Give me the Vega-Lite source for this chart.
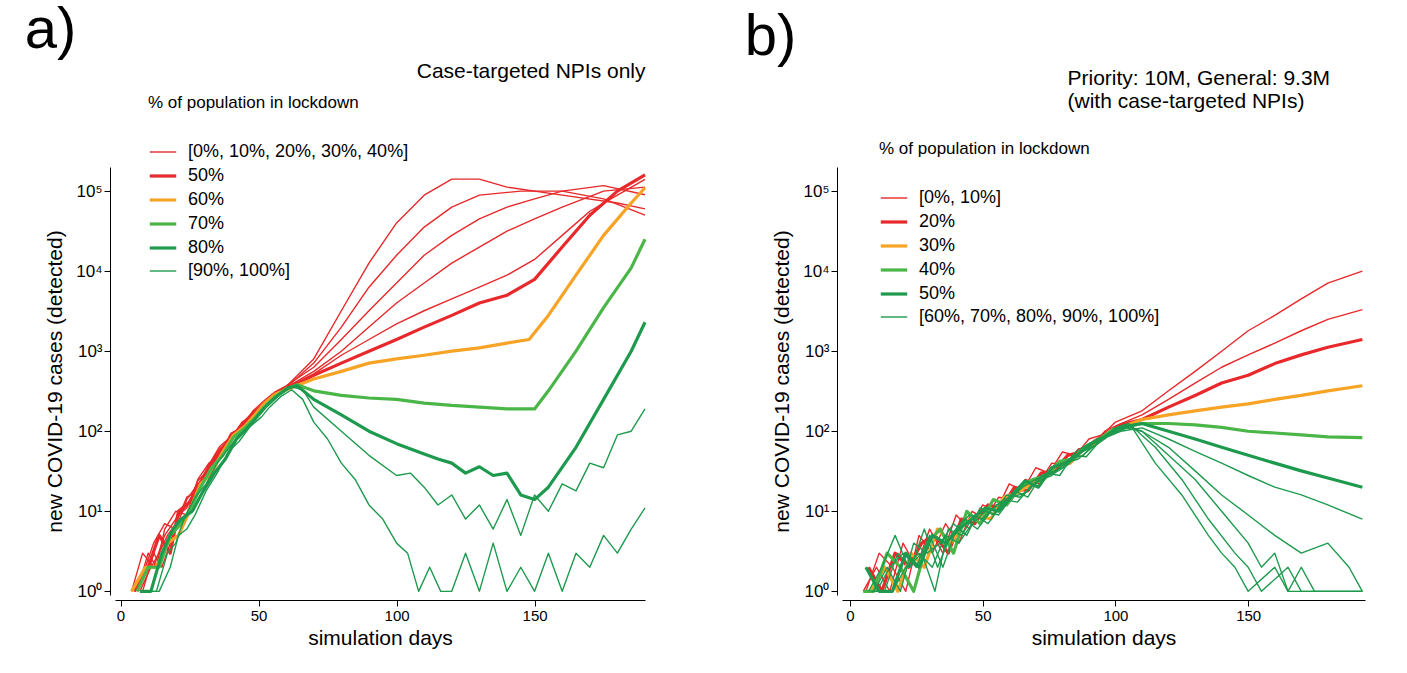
{
"$schema":"https://vega.github.io/schema/vega-lite/v6.json",
"background":"white",
"padding":{"left":24,"top":2,"right":5,"bottom":5},
"config":{"view":{"stroke":null},"font":"Liberation Sans",
 "axis":{"grid":false,"domainColor":"black","tickColor":"black","labelColor":"black","titleColor":"black","labelFontSize":15,"titleFontSize":21,"titleFontWeight":"normal","tickSize":6,"labelFont":"Liberation Sans","titleFont":"Liberation Sans"},
 "legend":{"labelFontSize":18,"titleFontSize":17,"titleFontWeight":"normal","labelColor":"black","titleColor":"black","symbolType":"stroke","symbolSize":700,"rowPadding":-1,"labelOffset":10,"labelLimit":0,"titleLimit":0},
 "title":{"fontSize":58,"fontWeight":"normal","anchor":"start","color":"black","font":"Liberation Sans"}},
"datasets":{
"sa":[{"s":"r1","g":"[0%, 10%, 20%, 30%, 40%]"},{"s":"r2","g":"[0%, 10%, 20%, 30%, 40%]"},{"s":"r3","g":"[0%, 10%, 20%, 30%, 40%]"},{"s":"r4","g":"[0%, 10%, 20%, 30%, 40%]"},{"s":"r5","g":"[0%, 10%, 20%, 30%, 40%]"},{"s":"r50","g":"50%"},{"s":"o60","g":"60%"},{"s":"g70","g":"70%"},{"s":"d80","g":"80%"},{"s":"t1","g":"[90%, 100%]"},{"s":"t2","g":"[90%, 100%]"}],
"sb":[{"s":"b10a","g":"[0%, 10%]"},{"s":"b10b","g":"[0%, 10%]"},{"s":"b20","g":"20%"},{"s":"b30","g":"30%"},{"s":"b40","g":"40%"},{"s":"b50","g":"50%"},{"s":"h1","g":" [60%, 70%, 80%, 90%, 100%]"},{"s":"h2","g":" [60%, 70%, 80%, 90%, 100%]"},{"s":"h3","g":" [60%, 70%, 80%, 90%, 100%]"},{"s":"h4","g":" [60%, 70%, 80%, 90%, 100%]"},{"s":"h5","g":" [60%, 70%, 80%, 90%, 100%]"}],
"a":[
{"s":"r1","x":4,"y":1},{"s":"r1","x":8,"y":3},{"s":"r1","x":12,"y":2},{"s":"r1","x":16,"y":5},{"s":"r1","x":20,"y":8},{"s":"r1","x":24,"y":12},{"s":"r1","x":28,"y":20},{"s":"r1","x":32,"y":35},{"s":"r1","x":36,"y":55},{"s":"r1","x":40,"y":90},{"s":"r1","x":44,"y":120},{"s":"r1","x":48,"y":170},{"s":"r1","x":52,"y":230},{"s":"r1","x":56,"y":300},{"s":"r1","x":60,"y":360},{"s":"r1","x":70,"y":800},{"s":"r1","x":80,"y":3200},{"s":"r1","x":90,"y":12600},{"s":"r1","x":100,"y":40000},{"s":"r1","x":110,"y":89000},{"s":"r1","x":120,"y":141000},{"s":"r1","x":130,"y":141000},{"s":"r1","x":140,"y":112000},{"s":"r1","x":160,"y":89000},{"s":"r1","x":180,"y":71000},{"s":"r1","x":190,"y":60000},
{"s":"r2","x":5,"y":1},{"s":"r2","x":9,"y":2},{"s":"r2","x":12,"y":4},{"s":"r2","x":16,"y":7},{"s":"r2","x":20,"y":6},{"s":"r2","x":24,"y":14},{"s":"r2","x":28,"y":22},{"s":"r2","x":32,"y":30},{"s":"r2","x":36,"y":60},{"s":"r2","x":40,"y":80},{"s":"r2","x":44,"y":130},{"s":"r2","x":48,"y":160},{"s":"r2","x":52,"y":220},{"s":"r2","x":56,"y":290},{"s":"r2","x":60,"y":350},{"s":"r2","x":70,"y":710},{"s":"r2","x":80,"y":2000},{"s":"r2","x":90,"y":6300},{"s":"r2","x":100,"y":15800},{"s":"r2","x":110,"y":35500},{"s":"r2","x":120,"y":63000},{"s":"r2","x":130,"y":89000},{"s":"r2","x":145,"y":100000},{"s":"r2","x":160,"y":100000},{"s":"r2","x":175,"y":80000},{"s":"r2","x":190,"y":50000},
{"s":"r3","x":6,"y":1},{"s":"r3","x":10,"y":3},{"s":"r3","x":13,"y":2},{"s":"r3","x":16,"y":6},{"s":"r3","x":20,"y":10},{"s":"r3","x":24,"y":9},{"s":"r3","x":28,"y":25},{"s":"r3","x":32,"y":40},{"s":"r3","x":36,"y":50},{"s":"r3","x":40,"y":95},{"s":"r3","x":44,"y":110},{"s":"r3","x":48,"y":180},{"s":"r3","x":52,"y":240},{"s":"r3","x":56,"y":310},{"s":"r3","x":60,"y":370},{"s":"r3","x":70,"y":630},{"s":"r3","x":80,"y":1400},{"s":"r3","x":90,"y":3200},{"s":"r3","x":100,"y":7100},{"s":"r3","x":110,"y":15800},{"s":"r3","x":120,"y":28000},{"s":"r3","x":130,"y":45000},{"s":"r3","x":140,"y":63000},{"s":"r3","x":150,"y":80000},{"s":"r3","x":160,"y":100000},{"s":"r3","x":175,"y":117000},{"s":"r3","x":190,"y":90000},
{"s":"r4","x":7,"y":1},{"s":"r4","x":11,"y":2},{"s":"r4","x":14,"y":3},{"s":"r4","x":17,"y":5},{"s":"r4","x":20,"y":7},{"s":"r4","x":24,"y":15},{"s":"r4","x":28,"y":18},{"s":"r4","x":32,"y":38},{"s":"r4","x":36,"y":65},{"s":"r4","x":40,"y":85},{"s":"r4","x":44,"y":125},{"s":"r4","x":48,"y":175},{"s":"r4","x":52,"y":220},{"s":"r4","x":56,"y":300},{"s":"r4","x":60,"y":350},{"s":"r4","x":70,"y":560},{"s":"r4","x":80,"y":1000},{"s":"r4","x":90,"y":2000},{"s":"r4","x":100,"y":4000},{"s":"r4","x":110,"y":7100},{"s":"r4","x":120,"y":12600},{"s":"r4","x":130,"y":20000},{"s":"r4","x":140,"y":31600},{"s":"r4","x":150,"y":45000},{"s":"r4","x":160,"y":63000},{"s":"r4","x":175,"y":100000},{"s":"r4","x":190,"y":112000},
{"s":"r5","x":8,"y":1},{"s":"r5","x":12,"y":3},{"s":"r5","x":15,"y":2},{"s":"r5","x":18,"y":4},{"s":"r5","x":21,"y":9},{"s":"r5","x":24,"y":11},{"s":"r5","x":28,"y":24},{"s":"r5","x":32,"y":33},{"s":"r5","x":36,"y":52},{"s":"r5","x":40,"y":88},{"s":"r5","x":44,"y":115},{"s":"r5","x":48,"y":165},{"s":"r5","x":52,"y":210},{"s":"r5","x":56,"y":290},{"s":"r5","x":60,"y":340},{"s":"r5","x":70,"y":520},{"s":"r5","x":80,"y":890},{"s":"r5","x":90,"y":1400},{"s":"r5","x":100,"y":2200},{"s":"r5","x":110,"y":3200},{"s":"r5","x":120,"y":4500},{"s":"r5","x":130,"y":6300},{"s":"r5","x":140,"y":8900},{"s":"r5","x":150,"y":14000},{"s":"r5","x":160,"y":28000},{"s":"r5","x":170,"y":56000},{"s":"r5","x":180,"y":89000},{"s":"r5","x":190,"y":140000},
{"s":"r50","x":5,"y":1},{"s":"r50","x":10,"y":2},{"s":"r50","x":14,"y":5},{"s":"r50","x":18,"y":3},{"s":"r50","x":21,"y":10},{"s":"r50","x":25,"y":13},{"s":"r50","x":28,"y":20},{"s":"r50","x":32,"y":36},{"s":"r50","x":36,"y":58},{"s":"r50","x":40,"y":80},{"s":"r50","x":44,"y":120},{"s":"r50","x":48,"y":160},{"s":"r50","x":52,"y":215},{"s":"r50","x":56,"y":280},{"s":"r50","x":60,"y":340},{"s":"r50","x":70,"y":500},{"s":"r50","x":80,"y":710},{"s":"r50","x":90,"y":1000},{"s":"r50","x":100,"y":1400},{"s":"r50","x":110,"y":2000},{"s":"r50","x":120,"y":2800},{"s":"r50","x":130,"y":4000},{"s":"r50","x":140,"y":5000},{"s":"r50","x":150,"y":7900},{"s":"r50","x":160,"y":20000},{"s":"r50","x":170,"y":50000},{"s":"r50","x":180,"y":100000},{"s":"r50","x":190,"y":160000},
{"s":"o60","x":4,"y":1},{"s":"o60","x":9,"y":2},{"s":"o60","x":13,"y":2},{"s":"o60","x":17,"y":4},{"s":"o60","x":21,"y":5},{"s":"o60","x":25,"y":10},{"s":"o60","x":29,"y":22},{"s":"o60","x":33,"y":30},{"s":"o60","x":37,"y":55},{"s":"o60","x":41,"y":90},{"s":"o60","x":45,"y":115},{"s":"o60","x":49,"y":165},{"s":"o60","x":52,"y":220},{"s":"o60","x":56,"y":290},{"s":"o60","x":60,"y":330},{"s":"o60","x":70,"y":450},{"s":"o60","x":80,"y":560},{"s":"o60","x":90,"y":710},{"s":"o60","x":100,"y":800},{"s":"o60","x":110,"y":890},{"s":"o60","x":120,"y":1000},{"s":"o60","x":130,"y":1100},{"s":"o60","x":140,"y":1260},{"s":"o60","x":148,"y":1400},{"s":"o60","x":155,"y":2800},{"s":"o60","x":165,"y":8900},{"s":"o60","x":175,"y":28000},{"s":"o60","x":185,"y":71000},{"s":"o60","x":190,"y":110000},
{"s":"g70","x":6,"y":1},{"s":"g70","x":10,"y":2},{"s":"g70","x":14,"y":2},{"s":"g70","x":18,"y":5},{"s":"g70","x":22,"y":7},{"s":"g70","x":26,"y":12},{"s":"g70","x":29,"y":20},{"s":"g70","x":33,"y":35},{"s":"g70","x":37,"y":50},{"s":"g70","x":41,"y":85},{"s":"g70","x":45,"y":110},{"s":"g70","x":49,"y":150},{"s":"g70","x":52,"y":200},{"s":"g70","x":56,"y":270},{"s":"g70","x":60,"y":340},{"s":"g70","x":64,"y":380},{"s":"g70","x":70,"y":320},{"s":"g70","x":80,"y":280},{"s":"g70","x":90,"y":260},{"s":"g70","x":100,"y":250},{"s":"g70","x":110,"y":225},{"s":"g70","x":120,"y":210},{"s":"g70","x":130,"y":200},{"s":"g70","x":140,"y":190},{"s":"g70","x":150,"y":190},{"s":"g70","x":155,"y":320},{"s":"g70","x":165,"y":1000},{"s":"g70","x":175,"y":3500},{"s":"g70","x":185,"y":11000},{"s":"g70","x":190,"y":25000},
{"s":"d80","x":7,"y":1},{"s":"d80","x":11,"y":1},{"s":"d80","x":15,"y":3},{"s":"d80","x":19,"y":6},{"s":"d80","x":22,"y":8},{"s":"d80","x":26,"y":10},{"s":"d80","x":30,"y":18},{"s":"d80","x":34,"y":30},{"s":"d80","x":38,"y":45},{"s":"d80","x":42,"y":80},{"s":"d80","x":46,"y":110},{"s":"d80","x":50,"y":160},{"s":"d80","x":53,"y":210},{"s":"d80","x":57,"y":280},{"s":"d80","x":61,"y":350},{"s":"d80","x":64,"y":370},{"s":"d80","x":70,"y":250},{"s":"d80","x":80,"y":160},{"s":"d80","x":90,"y":100},{"s":"d80","x":100,"y":70},{"s":"d80","x":110,"y":52},{"s":"d80","x":115,"y":45},{"s":"d80","x":120,"y":40},{"s":"d80","x":125,"y":30},{"s":"d80","x":130,"y":36},{"s":"d80","x":135,"y":28},{"s":"d80","x":140,"y":30},{"s":"d80","x":145,"y":16},{"s":"d80","x":150,"y":14},{"s":"d80","x":155,"y":20},{"s":"d80","x":165,"y":63},{"s":"d80","x":175,"y":250},{"s":"d80","x":185,"y":1000},{"s":"d80","x":190,"y":2300},
{"s":"t1","x":9,"y":1},{"s":"t1","x":13,"y":1},{"s":"t1","x":17,"y":3},{"s":"t1","x":20,"y":4},{"s":"t1","x":23,"y":8},{"s":"t1","x":27,"y":15},{"s":"t1","x":31,"y":22},{"s":"t1","x":35,"y":40},{"s":"t1","x":39,"y":60},{"s":"t1","x":43,"y":90},{"s":"t1","x":47,"y":120},{"s":"t1","x":51,"y":180},{"s":"t1","x":54,"y":230},{"s":"t1","x":58,"y":300},{"s":"t1","x":62,"y":360},{"s":"t1","x":66,"y":330},{"s":"t1","x":70,"y":200},{"s":"t1","x":80,"y":100},{"s":"t1","x":90,"y":50},{"s":"t1","x":100,"y":28},{"s":"t1","x":105,"y":30},{"s":"t1","x":110,"y":20},{"s":"t1","x":115,"y":12},{"s":"t1","x":120,"y":16},{"s":"t1","x":125,"y":8},{"s":"t1","x":130,"y":12},{"s":"t1","x":135,"y":6},{"s":"t1","x":140,"y":14},{"s":"t1","x":145,"y":5},{"s":"t1","x":150,"y":16},{"s":"t1","x":155,"y":10},{"s":"t1","x":160,"y":22},{"s":"t1","x":165,"y":18},{"s":"t1","x":170,"y":40},{"s":"t1","x":175,"y":35},{"s":"t1","x":180,"y":90},{"s":"t1","x":185,"y":100},{"s":"t1","x":190,"y":190},
{"s":"t2","x":10,"y":1},{"s":"t2","x":14,"y":1},{"s":"t2","x":18,"y":2},{"s":"t2","x":21,"y":5},{"s":"t2","x":24,"y":6},{"s":"t2","x":27,"y":9},{"s":"t2","x":31,"y":18},{"s":"t2","x":35,"y":30},{"s":"t2","x":39,"y":55},{"s":"t2","x":43,"y":75},{"s":"t2","x":47,"y":115},{"s":"t2","x":51,"y":150},{"s":"t2","x":54,"y":200},{"s":"t2","x":58,"y":270},{"s":"t2","x":62,"y":330},{"s":"t2","x":66,"y":250},{"s":"t2","x":70,"y":130},{"s":"t2","x":75,"y":80},{"s":"t2","x":80,"y":40},{"s":"t2","x":85,"y":25},{"s":"t2","x":90,"y":12},{"s":"t2","x":95,"y":8},{"s":"t2","x":100,"y":4},{"s":"t2","x":104,"y":3},{"s":"t2","x":108,"y":1},{"s":"t2","x":112,"y":2},{"s":"t2","x":116,"y":1},{"s":"t2","x":120,"y":1},{"s":"t2","x":125,"y":3},{"s":"t2","x":130,"y":1},{"s":"t2","x":135,"y":4},{"s":"t2","x":140,"y":1},{"s":"t2","x":145,"y":2},{"s":"t2","x":150,"y":1},{"s":"t2","x":155,"y":3},{"s":"t2","x":160,"y":1},{"s":"t2","x":165,"y":3},{"s":"t2","x":170,"y":2},{"s":"t2","x":175,"y":5},{"s":"t2","x":180,"y":3},{"s":"t2","x":185,"y":6},{"s":"t2","x":190,"y":11}
],
"b":[
{"s":"b10a","x":5,"y":1},{"s":"b10a","x":10,"y":2},{"s":"b10a","x":15,"y":1},{"s":"b10a","x":20,"y":4},{"s":"b10a","x":25,"y":2},{"s":"b10a","x":30,"y":6},{"s":"b10a","x":35,"y":3},{"s":"b10a","x":40,"y":9},{"s":"b10a","x":45,"y":6},{"s":"b10a","x":50,"y":12},{"s":"b10a","x":55,"y":10},{"s":"b10a","x":60,"y":22},{"s":"b10a","x":65,"y":18},{"s":"b10a","x":70,"y":35},{"s":"b10a","x":75,"y":30},{"s":"b10a","x":80,"y":55},{"s":"b10a","x":85,"y":50},{"s":"b10a","x":90,"y":80},{"s":"b10a","x":95,"y":90},{"s":"b10a","x":100,"y":130},{"s":"b10a","x":110,"y":180},{"s":"b10a","x":120,"y":320},{"s":"b10a","x":130,"y":560},{"s":"b10a","x":140,"y":1000},{"s":"b10a","x":150,"y":1800},{"s":"b10a","x":160,"y":2800},{"s":"b10a","x":170,"y":4500},{"s":"b10a","x":180,"y":7100},{"s":"b10a","x":193,"y":10000},
{"s":"b10b","x":6,"y":1},{"s":"b10b","x":11,"y":3},{"s":"b10b","x":16,"y":2},{"s":"b10b","x":21,"y":1},{"s":"b10b","x":26,"y":5},{"s":"b10b","x":31,"y":3},{"s":"b10b","x":36,"y":7},{"s":"b10b","x":41,"y":4},{"s":"b10b","x":46,"y":10},{"s":"b10b","x":51,"y":8},{"s":"b10b","x":56,"y":15},{"s":"b10b","x":61,"y":14},{"s":"b10b","x":66,"y":25},{"s":"b10b","x":71,"y":22},{"s":"b10b","x":76,"y":40},{"s":"b10b","x":81,"y":38},{"s":"b10b","x":86,"y":60},{"s":"b10b","x":91,"y":65},{"s":"b10b","x":96,"y":100},{"s":"b10b","x":101,"y":120},{"s":"b10b","x":110,"y":160},{"s":"b10b","x":120,"y":250},{"s":"b10b","x":130,"y":400},{"s":"b10b","x":140,"y":630},{"s":"b10b","x":150,"y":900},{"s":"b10b","x":160,"y":1260},{"s":"b10b","x":170,"y":1800},{"s":"b10b","x":180,"y":2500},{"s":"b10b","x":193,"y":3300},
{"s":"b20","x":7,"y":2},{"s":"b20","x":12,"y":1},{"s":"b20","x":17,"y":3},{"s":"b20","x":22,"y":2},{"s":"b20","x":27,"y":4},{"s":"b20","x":32,"y":5},{"s":"b20","x":37,"y":3},{"s":"b20","x":42,"y":8},{"s":"b20","x":47,"y":7},{"s":"b20","x":52,"y":12},{"s":"b20","x":57,"y":11},{"s":"b20","x":62,"y":20},{"s":"b20","x":67,"y":18},{"s":"b20","x":72,"y":30},{"s":"b20","x":77,"y":32},{"s":"b20","x":82,"y":50},{"s":"b20","x":87,"y":55},{"s":"b20","x":92,"y":75},{"s":"b20","x":97,"y":95},{"s":"b20","x":102,"y":120},{"s":"b20","x":110,"y":140},{"s":"b20","x":120,"y":200},{"s":"b20","x":130,"y":280},{"s":"b20","x":140,"y":400},{"s":"b20","x":150,"y":500},{"s":"b20","x":160,"y":700},{"s":"b20","x":170,"y":900},{"s":"b20","x":180,"y":1120},{"s":"b20","x":193,"y":1400},
{"s":"b30","x":8,"y":1},{"s":"b30","x":13,"y":2},{"s":"b30","x":18,"y":1},{"s":"b30","x":23,"y":3},{"s":"b30","x":28,"y":2},{"s":"b30","x":33,"y":6},{"s":"b30","x":38,"y":4},{"s":"b30","x":43,"y":7},{"s":"b30","x":48,"y":9},{"s":"b30","x":53,"y":8},{"s":"b30","x":58,"y":15},{"s":"b30","x":63,"y":17},{"s":"b30","x":68,"y":22},{"s":"b30","x":73,"y":25},{"s":"b30","x":78,"y":38},{"s":"b30","x":83,"y":40},{"s":"b30","x":88,"y":60},{"s":"b30","x":93,"y":70},{"s":"b30","x":98,"y":100},{"s":"b30","x":103,"y":115},{"s":"b30","x":110,"y":140},{"s":"b30","x":120,"y":160},{"s":"b30","x":130,"y":180},{"s":"b30","x":140,"y":200},{"s":"b30","x":150,"y":220},{"s":"b30","x":160,"y":250},{"s":"b30","x":170,"y":280},{"s":"b30","x":180,"y":320},{"s":"b30","x":193,"y":370},
{"s":"b40","x":5,"y":1},{"s":"b40","x":9,"y":1},{"s":"b40","x":14,"y":3},{"s":"b40","x":19,"y":2},{"s":"b40","x":24,"y":1},{"s":"b40","x":29,"y":4},{"s":"b40","x":34,"y":6},{"s":"b40","x":39,"y":3},{"s":"b40","x":44,"y":10},{"s":"b40","x":49,"y":7},{"s":"b40","x":54,"y":14},{"s":"b40","x":59,"y":12},{"s":"b40","x":64,"y":20},{"s":"b40","x":69,"y":25},{"s":"b40","x":74,"y":28},{"s":"b40","x":79,"y":42},{"s":"b40","x":84,"y":45},{"s":"b40","x":89,"y":65},{"s":"b40","x":94,"y":80},{"s":"b40","x":99,"y":105},{"s":"b40","x":110,"y":125},{"s":"b40","x":120,"y":125},{"s":"b40","x":130,"y":120},{"s":"b40","x":140,"y":112},{"s":"b40","x":150,"y":100},{"s":"b40","x":160,"y":95},{"s":"b40","x":170,"y":90},{"s":"b40","x":180,"y":85},{"s":"b40","x":193,"y":83},
{"s":"b50","x":6,"y":2},{"s":"b50","x":11,"y":1},{"s":"b50","x":16,"y":1},{"s":"b50","x":21,"y":3},{"s":"b50","x":26,"y":2},{"s":"b50","x":31,"y":5},{"s":"b50","x":36,"y":4},{"s":"b50","x":41,"y":6},{"s":"b50","x":46,"y":8},{"s":"b50","x":51,"y":11},{"s":"b50","x":56,"y":10},{"s":"b50","x":61,"y":16},{"s":"b50","x":66,"y":24},{"s":"b50","x":71,"y":20},{"s":"b50","x":76,"y":35},{"s":"b50","x":81,"y":40},{"s":"b50","x":86,"y":52},{"s":"b50","x":91,"y":70},{"s":"b50","x":96,"y":85},{"s":"b50","x":101,"y":110},{"s":"b50","x":110,"y":125},{"s":"b50","x":120,"y":100},{"s":"b50","x":130,"y":80},{"s":"b50","x":140,"y":63},{"s":"b50","x":150,"y":50},{"s":"b50","x":160,"y":40},{"s":"b50","x":170,"y":32},{"s":"b50","x":180,"y":26},{"s":"b50","x":193,"y":20},
{"s":"h1","x":7,"y":1},{"s":"h1","x":12,"y":2},{"s":"h1","x":17,"y":5},{"s":"h1","x":22,"y":2},{"s":"h1","x":27,"y":3},{"s":"h1","x":32,"y":1},{"s":"h1","x":37,"y":6},{"s":"h1","x":42,"y":5},{"s":"h1","x":47,"y":9},{"s":"h1","x":52,"y":7},{"s":"h1","x":57,"y":12},{"s":"h1","x":62,"y":18},{"s":"h1","x":67,"y":15},{"s":"h1","x":72,"y":28},{"s":"h1","x":77,"y":30},{"s":"h1","x":82,"y":38},{"s":"h1","x":87,"y":55},{"s":"h1","x":92,"y":65},{"s":"h1","x":97,"y":85},{"s":"h1","x":102,"y":100},{"s":"h1","x":110,"y":110},{"s":"h1","x":120,"y":80},{"s":"h1","x":130,"y":56},{"s":"h1","x":140,"y":40},{"s":"h1","x":150,"y":28},{"s":"h1","x":160,"y":20},{"s":"h1","x":170,"y":16},{"s":"h1","x":180,"y":12},{"s":"h1","x":193,"y":8},
{"s":"h2","x":8,"y":1},{"s":"h2","x":13,"y":1},{"s":"h2","x":18,"y":3},{"s":"h2","x":23,"y":2},{"s":"h2","x":28,"y":6},{"s":"h2","x":33,"y":2},{"s":"h2","x":38,"y":5},{"s":"h2","x":43,"y":8},{"s":"h2","x":48,"y":6},{"s":"h2","x":53,"y":10},{"s":"h2","x":58,"y":14},{"s":"h2","x":63,"y":13},{"s":"h2","x":68,"y":20},{"s":"h2","x":73,"y":26},{"s":"h2","x":78,"y":33},{"s":"h2","x":83,"y":45},{"s":"h2","x":88,"y":50},{"s":"h2","x":93,"y":80},{"s":"h2","x":98,"y":90},{"s":"h2","x":103,"y":120},{"s":"h2","x":110,"y":100},{"s":"h2","x":120,"y":63},{"s":"h2","x":130,"y":32},{"s":"h2","x":140,"y":16},{"s":"h2","x":150,"y":9},{"s":"h2","x":160,"y":5},{"s":"h2","x":170,"y":3},{"s":"h2","x":180,"y":4},{"s":"h2","x":188,"y":2},{"s":"h2","x":193,"y":1},
{"s":"h3","x":9,"y":1},{"s":"h3","x":14,"y":2},{"s":"h3","x":19,"y":1},{"s":"h3","x":24,"y":4},{"s":"h3","x":29,"y":3},{"s":"h3","x":34,"y":4},{"s":"h3","x":39,"y":7},{"s":"h3","x":44,"y":5},{"s":"h3","x":49,"y":11},{"s":"h3","x":54,"y":9},{"s":"h3","x":59,"y":16},{"s":"h3","x":64,"y":15},{"s":"h3","x":69,"y":22},{"s":"h3","x":74,"y":30},{"s":"h3","x":79,"y":28},{"s":"h3","x":84,"y":50},{"s":"h3","x":89,"y":48},{"s":"h3","x":94,"y":75},{"s":"h3","x":99,"y":95},{"s":"h3","x":104,"y":110},{"s":"h3","x":110,"y":100},{"s":"h3","x":120,"y":50},{"s":"h3","x":130,"y":25},{"s":"h3","x":140,"y":10},{"s":"h3","x":150,"y":4},{"s":"h3","x":155,"y":2},{"s":"h3","x":160,"y":3},{"s":"h3","x":165,"y":1},{"s":"h3","x":170,"y":2},{"s":"h3","x":175,"y":1},{"s":"h3","x":193,"y":1},
{"s":"h4","x":10,"y":1},{"s":"h4","x":15,"y":2},{"s":"h4","x":20,"y":3},{"s":"h4","x":25,"y":2},{"s":"h4","x":30,"y":5},{"s":"h4","x":35,"y":2},{"s":"h4","x":40,"y":6},{"s":"h4","x":45,"y":9},{"s":"h4","x":50,"y":8},{"s":"h4","x":55,"y":12},{"s":"h4","x":60,"y":14},{"s":"h4","x":65,"y":20},{"s":"h4","x":70,"y":25},{"s":"h4","x":75,"y":30},{"s":"h4","x":80,"y":35},{"s":"h4","x":85,"y":55},{"s":"h4","x":90,"y":70},{"s":"h4","x":95,"y":80},{"s":"h4","x":100,"y":110},{"s":"h4","x":105,"y":125},{"s":"h4","x":115,"y":63},{"s":"h4","x":125,"y":25},{"s":"h4","x":135,"y":8},{"s":"h4","x":145,"y":3},{"s":"h4","x":150,"y":2},{"s":"h4","x":155,"y":1},{"s":"h4","x":165,"y":2},{"s":"h4","x":170,"y":1},{"s":"h4","x":193,"y":1},
{"s":"h5","x":11,"y":1},{"s":"h5","x":16,"y":1},{"s":"h5","x":21,"y":2},{"s":"h5","x":26,"y":3},{"s":"h5","x":31,"y":2},{"s":"h5","x":36,"y":5},{"s":"h5","x":41,"y":4},{"s":"h5","x":46,"y":7},{"s":"h5","x":51,"y":10},{"s":"h5","x":56,"y":9},{"s":"h5","x":61,"y":15},{"s":"h5","x":66,"y":17},{"s":"h5","x":71,"y":24},{"s":"h5","x":76,"y":28},{"s":"h5","x":81,"y":40},{"s":"h5","x":86,"y":45},{"s":"h5","x":91,"y":62},{"s":"h5","x":96,"y":85},{"s":"h5","x":101,"y":100},{"s":"h5","x":106,"y":115},{"s":"h5","x":115,"y":40},{"s":"h5","x":125,"y":16},{"s":"h5","x":135,"y":5},{"s":"h5","x":140,"y":3},{"s":"h5","x":145,"y":2},{"s":"h5","x":150,"y":1},{"s":"h5","x":160,"y":2},{"s":"h5","x":165,"y":1},{"s":"h5","x":193,"y":1}
]},
"resolve":{"scale":{"x":"independent","y":"independent","color":"independent","strokeWidth":"independent"},"legend":{"color":"independent","strokeWidth":"independent"}},
"spacing":97,
"hconcat":[
{"title":{"text":"a)","offset":0,"dx":-20},"width":530,"height":428,
 "data":{"name":"a"},
 "transform":[{"lookup":"s","from":{"data":{"name":"sa"},"key":"s","fields":["g"]}}],
 "resolve":{"axis":{"x":"independent"}},
 "layer":[
 {"mark":{"type":"line","strokeJoin":"round"},
 "encoding":{
  "x":{"field":"x","type":"quantitative","scale":{"domain":[-2,190],"nice":false,"zero":false},"axis":{"values":[0,50,100,150],"offset":5,"title":"simulation days","titlePadding":4}},
  "y":{"field":"y","type":"quantitative","scale":{"type":"log","domain":[0.9,200000],"nice":false},"axis":{"values":[1,10,100,1000,10000,100000],"offset":5,"labelExpr":"'10' + ['⁰','¹','²','³','⁴','⁵'][round(log(datum.value)/LN10)]","labelFontSize":17,"title":"new COVID-19 cases (detected)","titlePadding":10}},
  "detail":{"field":"s"},
  "color":{"field":"g","type":"nominal","scale":{"domain":["[0%, 10%, 20%, 30%, 40%]","50%","60%","70%","80%","[90%, 100%]"],"range":["#e8282a","#e8282a","#f7a325","#4bb648","#1e9a4e","#1e9a4e"]},"legend":{"title":"% of population in lockdown","orient":"none","legendX":33,"legendY":-72,"titlePadding":26}},
  "strokeWidth":{"field":"g","type":"nominal","scale":{"type":"ordinal","domain":["[0%, 10%, 20%, 30%, 40%]","50%","60%","70%","80%","[90%, 100%]"],"range":[1.4,3.2,3.2,3.2,3.2,1.4]},"legend":{"title":"% of population in lockdown","orient":"none","legendX":33,"legendY":-72,"titlePadding":26}}
 }},
 {"mark":{"type":"line","opacity":0},
  "encoding":{"x":{"field":"x","type":"quantitative","axis":{"orient":"top","domain":false,"ticks":false,"labels":false,"title":"Case-targeted NPIs only","titleFontSize":21,"titleAnchor":"end","titlePadding":86}},"y":{"field":"y","type":"quantitative"},"detail":{"field":"s"}}}
 ]},
{"title":{"text":"b)","offset":0,"dx":-27},"width":523,"height":428,
 "data":{"name":"b"},
 "transform":[{"lookup":"s","from":{"data":{"name":"sb"},"key":"s","fields":["g"]}}],
 "resolve":{"axis":{"x":"independent"}},
 "layer":[
 {"mark":{"type":"line","strokeJoin":"round"},
 "encoding":{
  "x":{"field":"x","type":"quantitative","scale":{"domain":[-3,194],"nice":false,"zero":false},"axis":{"values":[0,50,100,150],"offset":5,"title":"simulation days","titlePadding":4}},
  "y":{"field":"y","type":"quantitative","scale":{"type":"log","domain":[0.9,200000],"nice":false},"axis":{"values":[1,10,100,1000,10000,100000],"offset":5,"labelExpr":"'10' + ['⁰','¹','²','³','⁴','⁵'][round(log(datum.value)/LN10)]","labelFontSize":17,"title":"new COVID-19 cases (detected)","titlePadding":10}},
  "detail":{"field":"s"},
  "color":{"field":"g","type":"nominal","scale":{"domain":["[0%, 10%]","20%","30%","40%","50%"," [60%, 70%, 80%, 90%, 100%]"],"range":["#e8282a","#e8282a","#f7a325","#4bb648","#1e9a4e","#1e9a4e"]},"legend":{"title":"% of population in lockdown","orient":"none","legendX":37,"legendY":-26,"titlePadding":26}},
  "strokeWidth":{"field":"g","type":"nominal","scale":{"type":"ordinal","domain":["[0%, 10%]","20%","30%","40%","50%"," [60%, 70%, 80%, 90%, 100%]"],"range":[1.4,3.2,3.2,3.2,3.2,1.4]},"legend":{"title":"% of population in lockdown","orient":"none","legendX":37,"legendY":-26,"titlePadding":26}}
 }},
 {"mark":{"type":"line","opacity":0},
  "encoding":{"x":{"field":"x","type":"quantitative","axis":{"orient":"top","domain":false,"ticks":false,"labels":false,"title":["Priority: 10M, General: 9.3M","(with case-targeted NPIs)"],"titleFontSize":21,"titleAnchor":"end","titleAlign":"left","titlePadding":56,"titleX":225}},"y":{"field":"y","type":"quantitative"},"detail":{"field":"s"}}}
 ]}
]
}
